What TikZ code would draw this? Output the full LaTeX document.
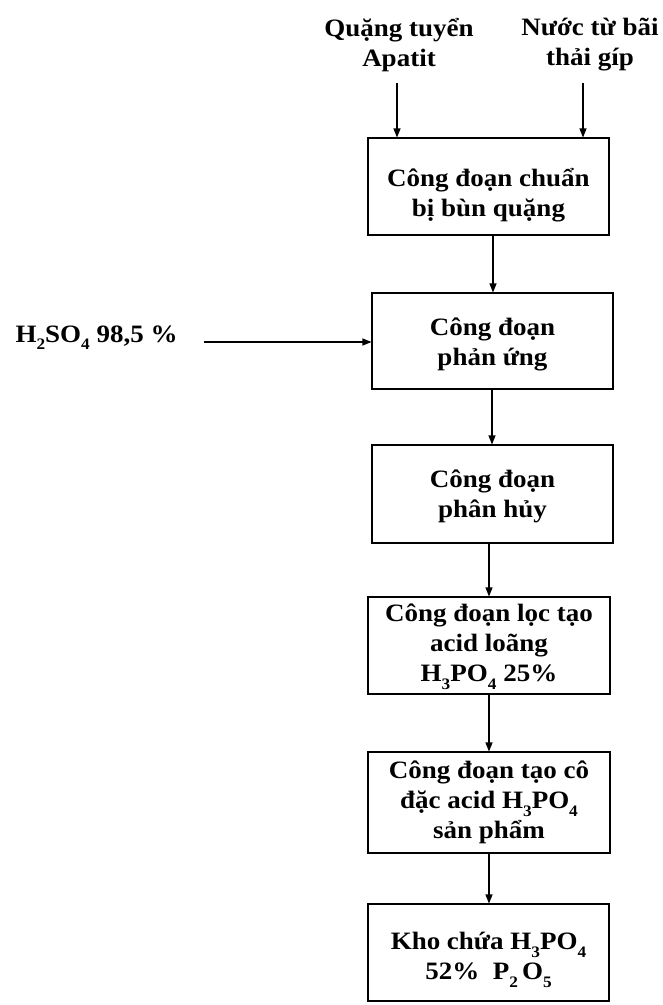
\documentclass[tikz,border=0pt]{standalone}
\usepackage{fontspec}
\setmainfont{Liberation Serif}[FakeStretch=1.08]
\usetikzlibrary{arrows.meta}
\newcommand{\chemsub}[1]{\raisebox{-0.3em}{\fontsize{16}{16}\selectfont #1}}
\newcommand{\txtlines}[2]{\raisebox{-#1}[\height][\depth]{\begin{tabular}{@{}c@{}}#2\end{tabular}}}
\begin{document}
\begin{tikzpicture}[x=1pt,y=-1pt,
  every node/.style={font=\bfseries\fontsize{25}{30}\selectfont, align=center},
  stage/.style={draw, line width=1.1pt, inner sep=0pt},
  arr/.style={line width=1.1pt, -{Triangle[length=9pt,width=7pt]}}]
\useasboundingbox (0,0) rectangle (662,1005);
\fill[white] (0,0) rectangle (662,1005);
% input labels
\node (q) at (399,45) {Quặng tuyển\\Apatit};
\node (n) at (590,45) {Nước từ bãi\\thải gíp};
\node[anchor=base west] (h) at (12,342) {H\chemsub{2}SO\chemsub{4} 98,5 \%};
% stages
\node[stage, minimum width=241pt, minimum height=97pt] (b1) at (488.5,186.5) {\txtlines{9pt}{Công đoạn chuẩn\\bị bùn quặng}};
\node[stage, minimum width=241pt, minimum height=96pt] (b2) at (492.5,341) {\txtlines{3pt}{Công đoạn\\phản ứng}};
\node[stage, minimum width=241pt, minimum height=98pt] (b3) at (492.5,494) {\txtlines{2pt}{Công đoạn\\phân hủy}};
\node[stage, minimum width=242pt, minimum height=97pt] (b4) at (489,645.5) {\txtlines{0pt}{Công đoạn lọc tạo\\acid loãng\\H\chemsub{3}PO\chemsub{4} 25\%}};
\node[stage, minimum width=242pt, minimum height=101pt] (b5) at (489,802.5) {\txtlines{0pt}{Công đoạn tạo cô\\đặc acid H\chemsub{3}PO\chemsub{4}\\sản phẩm}};
\node[stage, minimum width=241pt, minimum height=97pt] (b6) at (488.5,952.5) {\txtlines{6pt}{Kho chứa H\chemsub{3}PO\chemsub{4}\\52\%\ \ P\chemsub{2}\,O\chemsub{5}}};
% connectors
\coordinate (qa) at (397,83);
\coordinate (na) at (583,83);
\coordinate (ha) at (204,342);
\draw[arr] (qa) -- (qa |- b1.north);
\draw[arr] (na) -- (na |- b1.north);
\draw[arr] (ha) -- (ha -| b2.west);
\draw[arr] ([xshift=4.5pt]b1.south) -- ([xshift=0.5pt]b2.north);
\draw[arr] ([xshift=-0.5pt]b2.south) -- ([xshift=-0.5pt]b3.north);
\draw[arr] ([xshift=-3.5pt]b3.south) -- (b4.north);
\draw[arr] (b4.south) -- (b5.north);
\draw[arr] (b5.south) -- (b5.south |- b6.north);
\end{tikzpicture}
\end{document}
